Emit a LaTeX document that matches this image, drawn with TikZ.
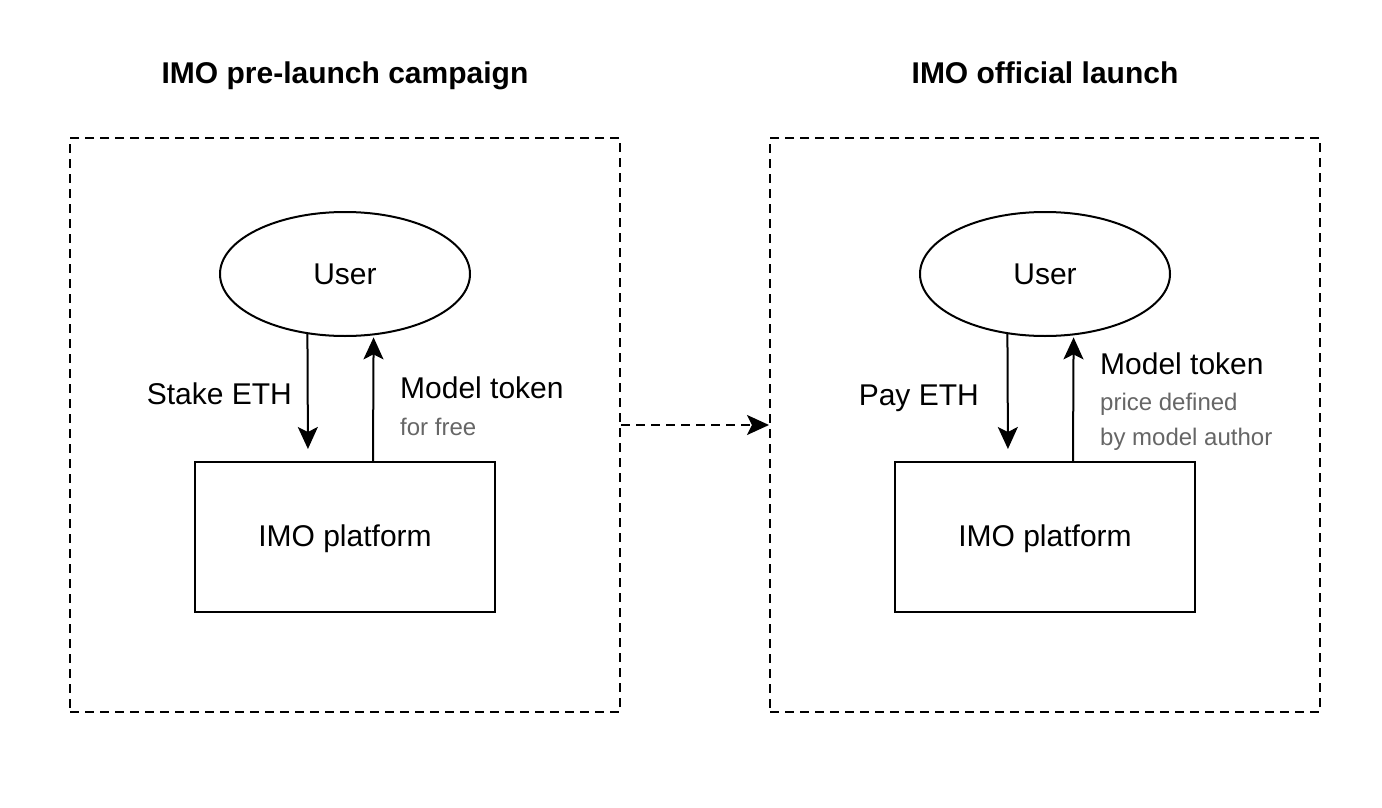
\documentclass[tikz,border=0pt]{standalone}
\usepackage{fontspec}
\setmainfont{Liberation Sans}
\usetikzlibrary{shapes, arrows.meta, positioning}
\definecolor{notegray}{RGB}{102,102,102}
\tikzstyle{phase} = [draw, line width=2pt, dash pattern=on 9pt off 6pt, minimum width=550pt, minimum height=574pt]
\tikzstyle{phasetitle} = [inner sep=0pt, font=\fontsize{30}{36}\selectfont\bfseries]
\tikzstyle{actor} = [draw, line width=2pt, ellipse, minimum width=250pt, minimum height=124pt, font=\fontsize{30}{36}\selectfont]
\tikzstyle{platform} = [draw, line width=2pt, rectangle, minimum width=300pt, minimum height=150pt, text depth=3pt, font=\fontsize{30}{36}\selectfont]
\tikzstyle{flow} = [line width=2pt, -{Stealth[length=22pt, width=20pt, inset=5pt]}]
\tikzstyle{flowlabel} = [inner sep=0pt, font=\fontsize{30}{36}\selectfont]
\tikzstyle{flownote} = [inner sep=0pt, text=notegray, align=left, font=\fontsize{24}{35}\selectfont]

\begin{document}
\begin{tikzpicture}[x=1pt, y=-1pt]
	\useasboundingbox[fill=white] (0,0) rectangle (1382,808);
	% pre-launch campaign
	\node [phase] (pre) at (345,425) {};
	\node [phasetitle, anchor=base] (pretitle) at (345,84) {IMO pre-launch campaign};
	\node [actor] (user1) at (345,274) {User};
	\node [platform] (plat1) at (345,537) {IMO platform};
	\draw [flow, shorten >=12pt] (user1.238) -- ([xshift=-37pt]plat1.north);
	\draw [flow, shorten >=2pt] ([xshift=28pt]plat1.north) -- (user1.295);
	\node [flowlabel, anchor=base east] (stake) at (292,404) {Stake ETH};
	\node [flowlabel, anchor=base west] (token1) at (400,398) {Model token};
	\node [flownote, anchor=base west] (free) at (400,435) {for free};
	% official launch
	\node [phase] (launch) at (1045,425) {};
	\node [phasetitle, anchor=base] (launchtitle) at (1045,84) {IMO official launch};
	\node [actor] (user2) at (1045,274) {User};
	\node [platform] (plat2) at (1045,537) {IMO platform};
	\draw [flow, shorten >=12pt] (user2.238) -- ([xshift=-37pt]plat2.north);
	\draw [flow, shorten >=2pt] ([xshift=28pt]plat2.north) -- (user2.295);
	\node [flowlabel, anchor=base east] (pay) at (979,405) {Pay ETH};
	\node [flowlabel, anchor=base west] (token2) at (1100,374) {Model token};
	\node [flownote, anchor=north west] (price) at (1100,393) {price defined\\by model author};
	% phase change
	\draw [flow, dash pattern=on 9pt off 6pt] (pre.east) -- (launch.west);
\end{tikzpicture}
\end{document}
